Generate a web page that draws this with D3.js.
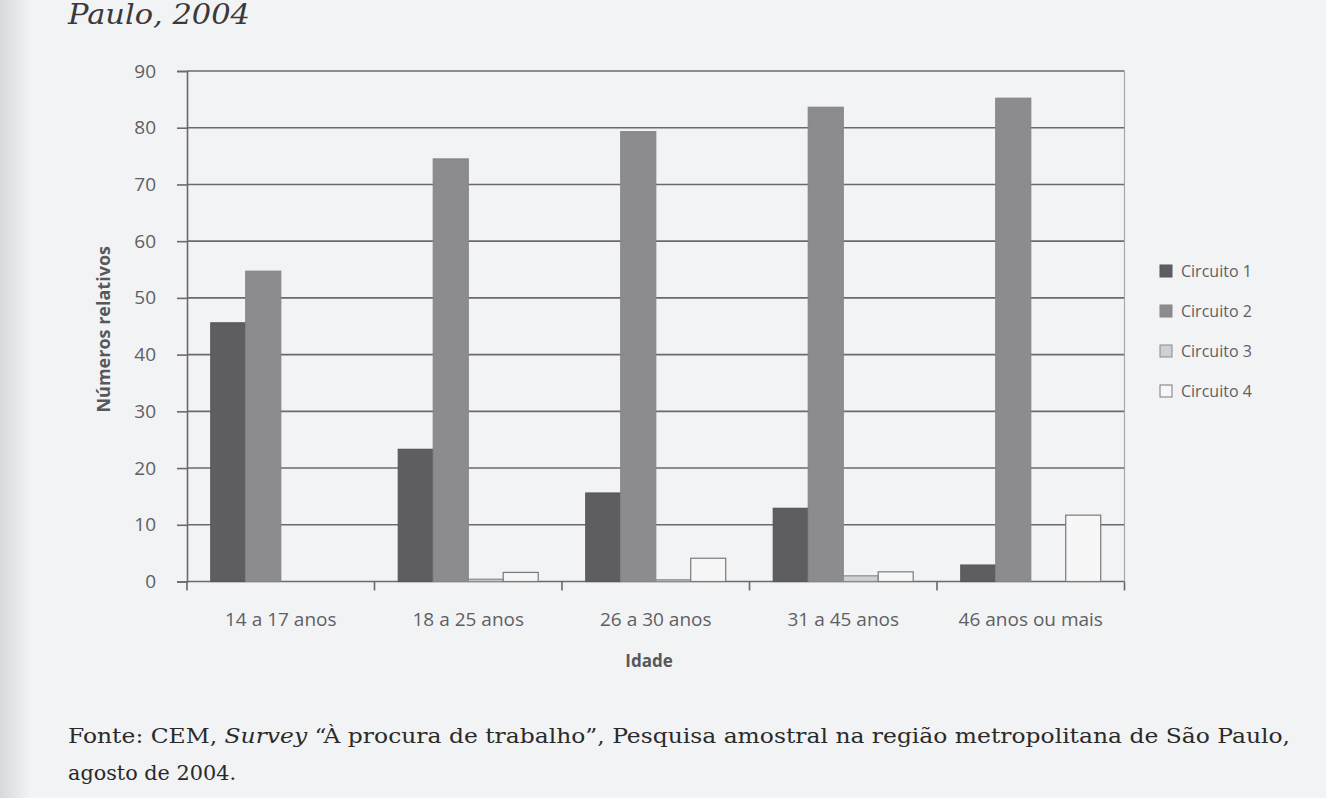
<!DOCTYPE html>
<html>
<head>
<meta charset="utf-8">
<script src="https://cdn.jsdelivr.net/npm/d3@7/dist/d3.min.js"></script>
<style>
  html, body { margin: 0; padding: 0; background: #f2f3f5; }
  svg { display: block; }
</style>
</head>
<body>
<svg id="chart" width="1326" height="798"></svg>
<script>
// ---- Data ----
const categories = ["14 a 17 anos", "18 a 25 anos", "26 a 30 anos", "31 a 45 anos", "46 anos ou mais"];
const seriesNames = ["Circuito 1", "Circuito 2", "Circuito 3", "Circuito 4"];
const circuito1 = [45.6, 23.3, 15.6, 12.9, 2.9];
const circuito2 = [54.7, 74.5, 79.3, 83.6, 85.2];
const circuito3 = [0, 0.4, 0.3, 1.0, 0];
const circuito4 = [0, 1.6, 4.1, 1.7, 11.7];
const yTicks = [0, 10, 20, 30, 40, 50, 60, 70, 80, 90];

const seriesValues = [circuito1, circuito2, circuito3, circuito4];
const fills = ["#5e5d62", "#8c8c90", "#cfd0d2", "#f7f7f8"];
const strokes = ["#58575c", "#86868a", "#8a8a8e", "#7a7a7e"];

const svg = d3.select("#chart");

// page background with darker left edge
const defs = svg.append("defs");
const grad = defs.append("linearGradient").attr("id", "edge").attr("x1", 0).attr("x2", 1);
grad.append("stop").attr("offset", "0%").attr("stop-color", "#d6d8db");
grad.append("stop").attr("offset", "100%").attr("stop-color", "#f2f3f5");
svg.append("rect").attr("x", 0).attr("y", 0).attr("width", 1326).attr("height", 798).attr("fill", "#f2f3f5");
svg.append("rect").attr("x", 0).attr("y", 0).attr("width", 30).attr("height", 798).attr("fill", "url(#edge)");

// title fragment from page (top of the clipping)
svg.append("text")
  .attr("x", 68).attr("y", 24)
  .attr("font-family", "DejaVu Serif").attr("font-style", "italic")
  .attr("font-size", 27).attr("fill", "#3a3a3a")
  .attr("textLength", 182).attr("lengthAdjust", "spacingAndGlyphs")
  .text("Paulo, 2004");

// ---- Scales ----
const pLeft = 187, pRight = 1124.5, pTop = 71, pBottom = 581.5;
const y = d3.scaleLinear().domain([0, 90]).range([pBottom, pTop]);
const x0 = d3.scaleBand().domain(categories).range([pLeft, pRight]).padding(0);
const x1 = d3.scaleBand().domain(seriesNames).range([0, x0.bandwidth()]).paddingInner(0).paddingOuter(0.68);

const gridColor = "#6a6a6e";
const textColor = "#5f5f63";

// gridlines
svg.append("g").selectAll("line").data(yTicks).join("line")
  .attr("x1", pLeft).attr("x2", pRight)
  .attr("y1", d => y(d)).attr("y2", d => y(d))
  .attr("stroke", gridColor).attr("stroke-width", 1.6);

// right frame
svg.append("line").attr("x1", pRight).attr("x2", pRight).attr("y1", pTop).attr("y2", pBottom)
  .attr("stroke", "#a8a8ac").attr("stroke-width", 1.2);

// bars
const groups = svg.append("g").selectAll("g").data(categories).join("g")
  .attr("transform", d => `translate(${x0(d)},0)`);
groups.selectAll("rect")
  .data((c, i) => seriesNames.map((s, j) => ({ s, j, v: seriesValues[j][i] })))
  .join("rect")
  .attr("x", d => x1(d.s))
  .attr("y", d => y(d.v))
  .attr("width", x1.bandwidth())
  .attr("height", d => y(0) - y(d.v))
  .attr("fill", d => fills[d.j])
  .attr("stroke", d => d.v > 0 ? strokes[d.j] : "none")
  .attr("stroke-width", 1.2);

// Y axis
const yAxis = d3.axisLeft(y).tickValues(yTicks).tickSize(10).tickPadding(21);
const gy = svg.append("g").attr("transform", `translate(${pLeft},0)`).call(yAxis);
gy.select(".domain").attr("stroke", gridColor).attr("stroke-width", 1.6);
gy.selectAll(".tick line").attr("stroke", gridColor).attr("stroke-width", 1.6);
gy.selectAll(".tick text").attr("font-family", "Open Sans").attr("font-size", 19).attr("fill", textColor);

// X axis: labels at centres, ticks at category boundaries
const xAxis = d3.axisBottom(x0).tickSize(0).tickPadding(30);
const gx = svg.append("g").attr("transform", `translate(0,${pBottom})`).call(xAxis);
gx.select(".domain").remove();
gx.selectAll(".tick text").attr("font-family", "Open Sans").attr("font-size", 19).attr("fill", textColor).attr("dy", "0.35em").attr("y", 38);

const bounds = categories.map(c => x0(c)).concat([pRight]);
svg.append("g").selectAll("line").data(bounds).join("line")
  .attr("x1", d => d).attr("x2", d => d)
  .attr("y1", pBottom).attr("y2", pBottom + 9)
  .attr("stroke", gridColor).attr("stroke-width", 1.6);

// axis titles
svg.append("text")
  .attr("transform", `translate(110,${(pTop + pBottom) / 2 + 3}) rotate(-90)`)
  .attr("text-anchor", "middle")
  .attr("font-family", "Open Sans").attr("font-weight", "bold").attr("font-size", 18)
  .attr("fill", "#58585c")
  .text("Números relativos");

svg.append("text")
  .attr("x", 649).attr("y", 667)
  .attr("text-anchor", "middle")
  .attr("font-family", "Open Sans").attr("font-weight", "bold").attr("font-size", 17)
  .attr("fill", "#58585c")
  .text("Idade");

// legend
const legend = svg.append("g").attr("transform", "translate(1160,0)");
const legRows = legend.selectAll("g").data(seriesNames).join("g")
  .attr("transform", (d, i) => `translate(0,${271 + i * 40})`);
legRows.append("rect")
  .attr("x", 0).attr("y", -6).attr("width", 12).attr("height", 12)
  .attr("fill", (d, i) => fills[i]).attr("stroke", (d, i) => strokes[i]).attr("stroke-width", 1);
legRows.append("text")
  .attr("x", 21).attr("y", 0).attr("dy", "0.35em")
  .attr("font-family", "Open Sans").attr("font-size", 16).attr("fill", textColor)
  .text(d => d);

// source note
const note = svg.append("text")
  .attr("x", 68).attr("y", 743)
  .attr("font-family", "DejaVu Serif").attr("font-size", 21).attr("fill", "#2a2a2a")
  .attr("textLength", 1222).attr("lengthAdjust", "spacingAndGlyphs");
note.append("tspan").text("Fonte: CEM, ");
note.append("tspan").attr("font-style", "italic").text("Survey");
note.append("tspan").text(" “À procura de trabalho”, Pesquisa amostral na região metropolitana de São Paulo,");

svg.append("text")
  .attr("x", 68).attr("y", 780)
  .attr("font-family", "DejaVu Serif").attr("font-size", 21).attr("fill", "#2a2a2a")
  .attr("textLength", 168).attr("lengthAdjust", "spacingAndGlyphs")
  .text("agosto de 2004.");
</script>
</body>
</html>
